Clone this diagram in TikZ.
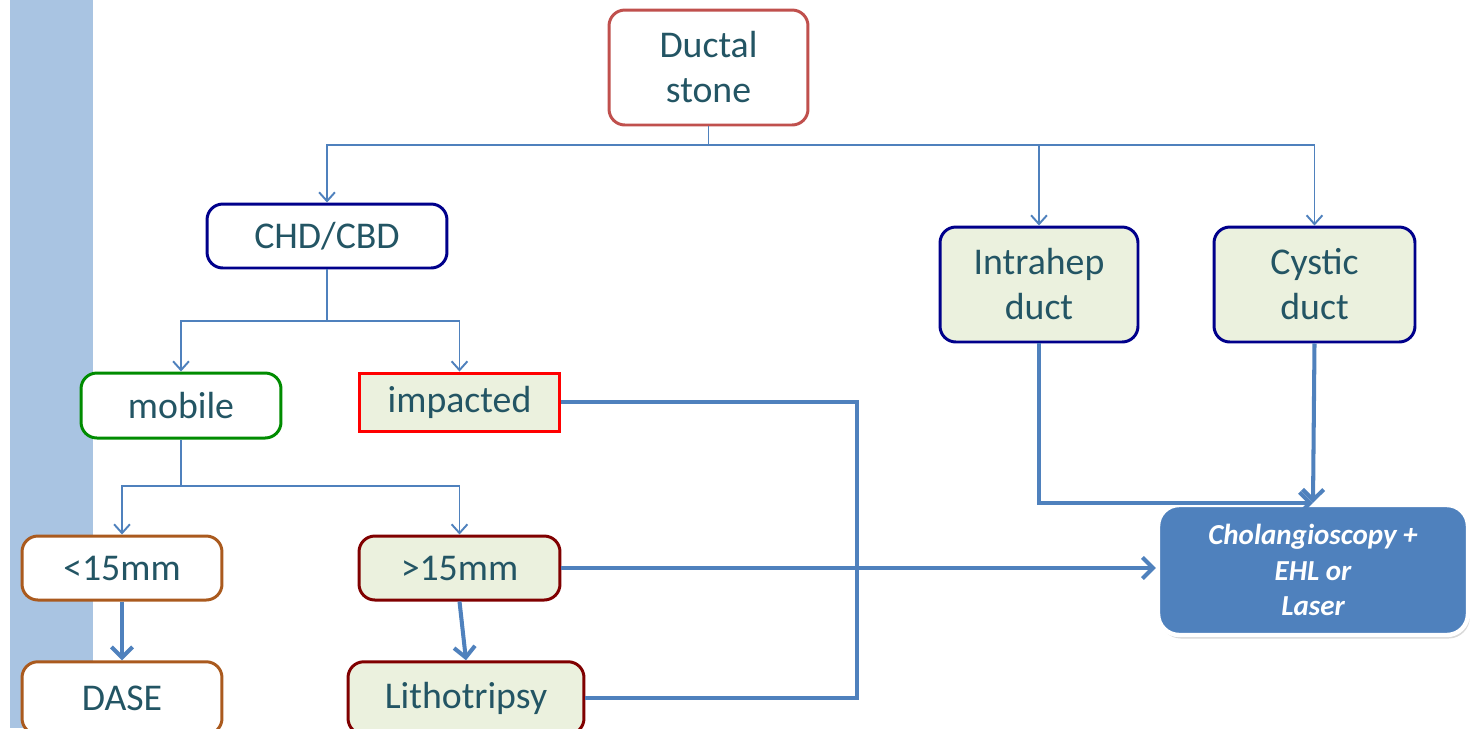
\documentclass[tikz,border=0pt]{standalone}
\usepackage{fontspec}
\setmainfont{Carlito}
\usetikzlibrary{arrows.meta,positioning,shadows}

\definecolor{linkblue}{RGB}{79,129,189}
\definecolor{txtteal}{RGB}{35,85,100}
\definecolor{navy}{RGB}{0,0,139}
\definecolor{paleg}{RGB}{235,241,222}
\definecolor{stonered}{RGB}{192,80,77}
\definecolor{okgreen}{RGB}{0,140,0}
\definecolor{brownish}{RGB}{170,90,30}
\definecolor{darkred}{RGB}{128,0,0}
\definecolor{barblue}{RGB}{169,196,226}

\tikzset{
  box/.style={draw,rounded corners=9pt,line width=1.7pt,fill=white,
    text=txtteal,align=center,font=\fontsize{21.5}{25.6}\selectfont},
  pale/.style={box,fill=paleg},
  thinlink/.style={draw=linkblue,line width=1.1pt},
  thinarrow/.style={thinlink,-{Straight Barb[length=5pt,width=9pt,line width=1.1pt]}},
  thicklink/.style={draw=linkblue,line width=2.3pt},
  thickarrow/.style={thicklink,-{Straight Barb[length=6pt,width=12pt,line width=2.3pt]}},
}

\begin{document}
\begin{tikzpicture}[x=0.02cm,y=-0.02cm]
\useasboundingbox (0,0) rectangle (1470,728);
\fill[barblue] (10,0) rectangle (93,728);

% boxes
\node[box,draw=stonered,minimum width=3.98cm,minimum height=2.3cm] (stone) at (708.5,67.5) {Ductal\\stone};
\node[box,draw=navy,minimum width=4.8cm,minimum height=1.28cm] (chd) at (327,236) {CHD/CBD};
\node[pale,draw=navy,minimum width=3.96cm,minimum height=2.3cm] (intra) at (1039,284.5) {Intrahep\\duct};
\node[pale,draw=navy,minimum width=4.02cm,minimum height=2.3cm] (cystic) at (1314.5,284.5) {Cystic\\duct};
\node[box,draw=okgreen,minimum width=4cm,minimum height=1.3cm] (mobile) at (181,405.5) {mobile};
\node[pale,draw=red,rounded corners=0pt,minimum width=4.02cm,minimum height=1.16cm] (impacted) at (459.5,402) {impacted};
\node[box,draw=brownish,minimum width=4cm,minimum height=1.28cm] (small) at (122,568) {<15mm};
\node[pale,draw=darkred,minimum width=4.02cm,minimum height=1.28cm] (large) at (459.5,568) {>15mm};
\node[box,draw=brownish,minimum width=4cm,minimum height=1.45cm] (dase) at (122,698) {DASE};
\node[pale,draw=darkred,minimum width=4.72cm,minimum height=1.45cm] (litho) at (466,698) {Lithotripsy};
\node[box,draw=white,line width=2.5pt,fill=linkblue,text=white,rounded corners=12pt,
  drop shadow={opacity=0.3,shadow xshift=1pt,shadow yshift=-2pt},
  font=\fontsize{16.5}{20.4}\selectfont\bfseries\itshape,
  minimum width=6.2cm,minimum height=2.6cm] (chol) at (1313,570)
  {Cholangioscopy +\\EHL or\\Laser};

% forks
\coordinate (f1) at (708.5,145);
\coordinate (f2) at (327,321);
\coordinate (f3) at (181,486);
\draw[thinlink] (stone.south) -- (f1);
\draw[thinarrow] (f1) -| (chd.north);
\draw[thinarrow] (f1) -| (intra.north);
\draw[thinarrow] (f1) -| (cystic.north);
\draw[thinlink] (chd.south) -- (f2);
\draw[thinarrow] (f2) -| (mobile.north);
\draw[thinarrow] (f2) -| (impacted.north);
\draw[thinlink] (mobile.south) -- (f3);
\draw[thinarrow] (f3) -| (small.north);
\draw[thinarrow] (f3) -| (large.north);

% thick links
\draw[thickarrow] (small.south) -- (dase.north);
\draw[thickarrow] (large.south) -- (litho.north);
\draw[thicklink] (impacted.east) -| (857,698) -- (litho.east);
\draw[thickarrow] (large.east) -- (large.east -| chol.west);
\draw[thickarrow] (intra.south) |- (chol.north);
\draw[thickarrow] (cystic.south) -- (chol.north);
\end{tikzpicture}
\end{document}
